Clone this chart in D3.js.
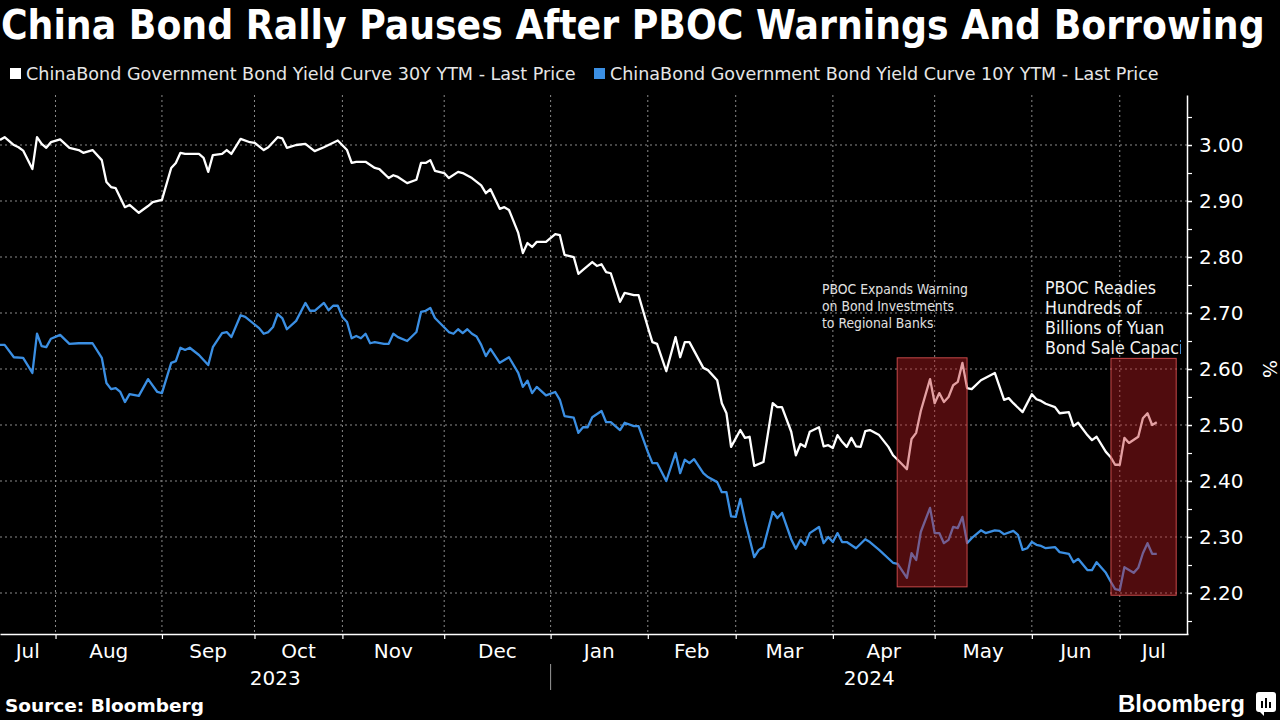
<!DOCTYPE html>
<html><head><meta charset="utf-8">
<script src="https://cdn.jsdelivr.net/npm/d3@7"></script>
<style>html,body{margin:0;padding:0;background:#000;} svg{display:block}</style>
</head><body><svg id="c" width="1280" height="720"></svg>
<script>
// ---------- DATA ----------
const title = "China Bond Rally Pauses After PBOC Warnings And Borrowing";
const seriesNames = [
  "ChinaBond Government Bond Yield Curve 30Y YTM - Last Price",
  "ChinaBond Government Bond Yield Curve 10Y YTM - Last Price"
];
// x = trading-day index from mid-July 2023
const monthLabels = ["Jul","Aug","Sep","Oct","Nov","Dec","Jan","Feb","Mar","Apr","May","Jun","Jul"];
const monthStarts = [12,35,55,74,96,119,140,159,180,202,223,242];
const dayDomain = [0, 256.75];
const yearLabels = ["2023","2024"];
const yearBreak = 119;
const yDomain = [2.1268, 3.0893];
const yTicks = [2.2,2.3,2.4,2.5,2.6,2.7,2.8,2.9,3.0];
const yMinorTicks = [2.15,2.25,2.35,2.45,2.55,2.65,2.75,2.85,2.95,3.05];

// 30Y yield: [trading day, %]
const yield30 = [[0,3.009],[1,3.014],[3,3.000],[4,2.996],[5,2.990],[7,2.957],[8,3.014],[9,3.002],[10,2.995],[11,3.005],[13,3.010],[15,2.995],[17,2.991],[18,2.986],[20,2.991],[22,2.973],[23,2.934],[24,2.925],[25,2.923],[27,2.889],[28,2.893],[30,2.879],[32,2.891],[33,2.898],[35,2.902],[37,2.959],[38,2.968],[39,2.986],[40,2.984],[43,2.984],[44,2.977],[45,2.952],[46,2.982],[48,2.984],[49,2.991],[50,2.984],[52,3.011],[54,3.005],[55,3.004],[57,2.991],[58,2.996],[60,3.014],[61,3.012],[62,2.995],[64,3.000],[66,3.002],[68,2.989],[70,2.996],[73,3.008],[75,2.991],[76,2.968],[77,2.970],[79,2.970],[81,2.959],[82,2.957],[84,2.941],[85,2.946],[86,2.943],[88,2.932],[90,2.938],[91,2.968],[92,2.968],[93,2.973],[94,2.954],[96,2.950],[97,2.941],[99,2.952],[100,2.950],[102,2.941],[104,2.928],[105,2.914],[106,2.921],[108,2.886],[109,2.889],[110,2.884],[112,2.843],[113,2.807],[114,2.825],[115,2.818],[116,2.827],[118,2.827],[120,2.841],[121,2.839],[122,2.804],[124,2.800],[125,2.770],[126,2.777],[128,2.791],[129,2.784],[130,2.787],[131,2.773],[132,2.771],[134,2.720],[135,2.736],[137,2.732],[138,2.732],[140,2.675],[141,2.648],[142,2.645],[144,2.596],[146,2.657],[147,2.621],[148,2.648],[149,2.648],[152,2.602],[153,2.598],[155,2.580],[156,2.539],[157,2.521],[158,2.461],[160,2.491],[161,2.477],[162,2.479],[163,2.427],[165,2.434],[167,2.539],[168,2.532],[169,2.532],[171,2.488],[172,2.446],[173,2.466],[174,2.461],[175,2.488],[177,2.496],[178,2.462],[179,2.464],[180,2.459],[181,2.482],[182,2.470],[183,2.461],[184,2.477],[185,2.462],[186,2.461],[187,2.489],[188,2.491],[190,2.482],[192,2.461],[193,2.446],[194,2.438],[196,2.421],[197,2.475],[198,2.486],[199,2.525],[201,2.582],[202,2.539],[203,2.557],[204,2.541],[205,2.550],[206,2.571],[207,2.577],[208,2.611],[209,2.566],[210,2.564],[212,2.580],[215,2.593],[217,2.545],[218,2.548],[219,2.539],[221,2.523],[223,2.555],[224,2.546],[225,2.543],[226,2.538],[228,2.532],[229,2.521],[231,2.523],[232,2.498],[233,2.504],[235,2.482],[236,2.473],[237,2.479],[239,2.452],[240,2.443],[241,2.429],[242,2.429],[243,2.477],[244,2.468],[246,2.479],[247,2.512],[248,2.521],[249,2.500],[250,2.505]];

// 10Y yield: [trading day, %]
const yield10 = [[0,2.643],[1,2.643],[3,2.621],[5,2.620],[7,2.593],[8,2.663],[9,2.641],[10,2.639],[11,2.654],[13,2.661],[15,2.645],[17,2.646],[20,2.646],[22,2.620],[23,2.575],[24,2.564],[25,2.566],[26,2.559],[27,2.541],[28,2.555],[30,2.552],[32,2.582],[34,2.559],[35,2.557],[37,2.611],[38,2.614],[39,2.638],[40,2.634],[41,2.638],[43,2.625],[45,2.607],[46,2.639],[48,2.664],[49,2.666],[50,2.657],[52,2.696],[53,2.693],[56,2.673],[57,2.663],[58,2.666],[59,2.675],[60,2.698],[61,2.691],[62,2.671],[64,2.686],[66,2.718],[67,2.704],[68,2.704],[70,2.718],[71,2.705],[72,2.713],[73,2.713],[74,2.693],[75,2.684],[76,2.655],[77,2.659],[78,2.655],[79,2.663],[80,2.646],[81,2.648],[83,2.645],[84,2.645],[85,2.663],[86,2.657],[88,2.650],[90,2.666],[91,2.702],[92,2.704],[93,2.709],[94,2.691],[97,2.666],[98,2.663],[99,2.671],[100,2.664],[101,2.671],[102,2.663],[103,2.658],[104,2.643],[105,2.623],[106,2.636],[108,2.611],[110,2.621],[112,2.593],[113,2.568],[114,2.579],[115,2.557],[116,2.568],[118,2.553],[120,2.559],[121,2.545],[122,2.516],[124,2.513],[125,2.486],[126,2.496],[127,2.496],[128,2.514],[130,2.525],[131,2.505],[132,2.505],[134,2.491],[135,2.504],[137,2.498],[138,2.498],[140,2.452],[141,2.432],[142,2.432],[144,2.400],[146,2.450],[147,2.414],[148,2.438],[149,2.432],[150,2.439],[152,2.414],[153,2.407],[155,2.398],[156,2.380],[157,2.380],[158,2.337],[159,2.336],[160,2.368],[161,2.330],[163,2.264],[164,2.277],[165,2.282],[167,2.345],[168,2.334],[169,2.343],[171,2.296],[172,2.279],[173,2.295],[174,2.286],[175,2.307],[177,2.318],[178,2.289],[179,2.300],[180,2.291],[181,2.307],[182,2.291],[183,2.291],[185,2.280],[187,2.296],[188,2.291],[190,2.277],[193,2.254],[194,2.252],[196,2.227],[197,2.271],[198,2.259],[199,2.309],[201,2.352],[202,2.307],[203,2.307],[204,2.289],[205,2.295],[206,2.318],[207,2.316],[208,2.336],[209,2.289],[210,2.298],[212,2.312],[213,2.307],[215,2.312],[216,2.311],[217,2.305],[219,2.311],[220,2.304],[221,2.277],[222,2.280],[223,2.291],[224,2.286],[225,2.284],[226,2.280],[228,2.282],[229,2.273],[231,2.270],[232,2.255],[233,2.261],[235,2.241],[236,2.241],[237,2.255],[239,2.236],[240,2.221],[241,2.207],[242,2.205],[243,2.246],[245,2.236],[246,2.245],[247,2.271],[248,2.289],[249,2.270],[250,2.270]];

// highlighted event windows: [startDay, endDay, low%, high%]
const eventWindows = [[193.9, 209.0, 2.211, 2.620],[240.1, 254.2, 2.196, 2.619]];
const eventNotes = [
  ["PBOC Expands Warning","on Bond Investments","to Regional Banks"],
  ["PBOC Readies","Hundreds of","Billions of Yuan","Bond Sale Capacity"]
];

// ---------- DRAW ----------
const svg = d3.select("#c");
const FONT = "'DejaVu Sans', Verdana, sans-serif";
const FONTC = "'DejaVu Sans Condensed', 'DejaVu Sans', sans-serif";
const plotL = 0, plotR = 1188, plotT = 95, plotB = 634;

// scale a text's font-size so its natural width equals target (no squeezing)
function fitWidth(sel, target, maxFs) {
  const fs = +sel.attr("font-size");
  const w = sel.node().getComputedTextLength();
  if (w > 0) sel.attr("font-size", Math.min(maxFs || 999, fs * target / w));
  return sel;
}

svg.append("rect").attr("width",1280).attr("height",720).attr("fill","#000");

const x = d3.scaleLinear().domain(dayDomain).range([plotL, plotR]);
const y = d3.scaleLinear().domain(yDomain).range([plotB, plotT]);

svg.append("defs").append("clipPath").attr("id","plotclip")
  .append("rect").attr("x",0).attr("y",80).attr("width",1181).attr("height",560);

// Title
const tt = svg.append("text").attr("x",1).attr("y",39)
  .attr("font-family",FONTC).attr("font-weight","bold").attr("font-size",38)
  .attr("fill","#fff").text(title);
fitWidth(tt, 1264, 41);

// Legend
const legendColors = ["#ffffff","#3b8fe3"];
const legendX = [10, 594];
const legendW = [550, 549];
seriesNames.forEach((n,i)=>{
  svg.append("rect").attr("x",legendX[i]).attr("y",68).attr("width",11).attr("height",11).attr("fill",legendColors[i]);
  const t = svg.append("text").attr("x",legendX[i]+16).attr("y",80)
    .attr("font-family",FONT).attr("font-size",17).attr("fill","#e6e6e6").text(n);
  fitWidth(t, legendW[i], 18);
});

// Grid
const grid = svg.append("g");
grid.selectAll("line.h").data(yTicks).join("line")
  .attr("x1",plotL).attr("x2",plotR-1).attr("y1",d=>y(d)).attr("y2",d=>y(d))
  .attr("stroke","#8a8a8a").attr("stroke-width",1).attr("stroke-dasharray","2,3");
grid.selectAll("line.v").data(monthStarts).join("line")
  .attr("x1",d=>x(d)).attr("x2",d=>x(d)).attr("y1",plotT).attr("y2",plotB)
  .attr("stroke","#8a8a8a").attr("stroke-width",1).attr("stroke-dasharray","2,3");

// Lines
const line = d3.line().x(d=>x(d[0])).y(d=>y(d[1])).curve(d3.curveLinear);
svg.append("path").datum(yield30).attr("d",line).attr("fill","none")
  .attr("stroke","#ffffff").attr("stroke-width",2.3).attr("stroke-linejoin","round");
svg.append("path").datum(yield10).attr("d",line).attr("fill","none")
  .attr("stroke","#3b8fe3").attr("stroke-width",2.3).attr("stroke-linejoin","round");

// Event boxes
svg.selectAll("rect.evt").data(eventWindows).join("rect")
  .attr("x",d=>x(d[0])).attr("width",d=>x(d[1])-x(d[0]))
  .attr("y",d=>y(d[3])).attr("height",d=>y(d[2])-y(d[3]))
  .attr("fill","rgba(190,28,34,0.42)").attr("stroke","rgba(225,85,85,0.85)").attr("stroke-width",1);

// Annotations
const notes = svg.append("g").attr("clip-path","url(#plotclip)");
const noteCfg = [{x:822,y0:294,dy:17,fs:13.5,fill:"#e0e0e0",w0:146},{x:1045,y0:294,dy:20,fs:17,fill:"#f2f2f2",w0:111}];
eventNotes.forEach((ls,i)=>{
  const c = noteCfg[i];
  const probe = notes.append("text").attr("font-family",FONTC).attr("font-size",c.fs).text(ls[0]);
  fitWidth(probe, c.w0, c.fs + 2);
  const fs = +probe.attr("font-size");
  probe.remove();
  ls.forEach((t,j)=>{
    notes.append("text").attr("x",c.x).attr("y",c.y0+j*c.dy)
      .attr("font-family",FONTC).attr("font-size",fs).attr("fill",c.fill).text(t);
  });
});

// Y axis (right)
const yAxis = svg.append("g").attr("transform",`translate(${plotR-1},0)`)
  .call(d3.axisRight(y).tickValues(yTicks).tickSize(5).tickSizeOuter(0).tickPadding(7).tickFormat(d3.format(".2f")));
yAxis.select(".domain").attr("stroke","#fff").attr("stroke-width",1.5);
yAxis.selectAll(".tick line").attr("stroke","#fff").attr("stroke-width",1.5);
yAxis.selectAll(".tick text").attr("fill","#fff").attr("font-family",FONT).attr("font-size",20);
const yMinor = svg.append("g").attr("transform",`translate(${plotR-1},0)`)
  .call(d3.axisRight(y).tickValues(yMinorTicks).tickSize(5).tickFormat(""));
yMinor.select(".domain").remove();
yMinor.selectAll(".tick line").attr("stroke","#fff").attr("stroke-width",1.2);

svg.append("text").attr("transform","translate(1263,369) rotate(90)")
  .attr("text-anchor","middle").attr("font-family",FONT).attr("font-size",19).attr("fill","#fff").text("%");

// X axis
const xAxis = svg.append("g").attr("transform",`translate(0,${plotB})`)
  .call(d3.axisBottom(x).tickValues(monthStarts).tickSize(5).tickSizeOuter(0).tickFormat(""));
xAxis.select(".domain").attr("stroke","#fff").attr("stroke-width",1.5);
xAxis.selectAll(".tick line").attr("stroke","#fff").attr("stroke-width",1.2);

const bounds = [dayDomain[0], ...monthStarts, dayDomain[1]];
svg.selectAll("text.mon").data(monthLabels).join("text")
  .attr("x",(d,i)=>(x(bounds[i])+x(bounds[i+1]))/2).attr("y",658)
  .attr("text-anchor","middle").attr("font-family",FONT).attr("font-size",20).attr("fill","#fff")
  .text(d=>d);
const yb = [dayDomain[0], yearBreak, dayDomain[1]];
svg.selectAll("text.yr").data(yearLabels).join("text")
  .attr("x",(d,i)=>(x(yb[i])+x(yb[i+1]))/2).attr("y",685)
  .attr("text-anchor","middle").attr("font-family",FONT).attr("font-size",20).attr("fill","#fff")
  .text(d=>d);
svg.append("line").attr("x1",x(yearBreak)).attr("x2",x(yearBreak)).attr("y1",664).attr("y2",690)
  .attr("stroke","#9a9a9a").attr("stroke-width",1);

// Footer
const src = svg.append("text").attr("x",5).attr("y",712).attr("font-family",FONT).attr("font-weight","bold")
  .attr("font-size",17).attr("fill","#fff").text("Source: Bloomberg");
fitWidth(src, 199, 18.6);
const bb = svg.append("text").attr("x",1118).attr("y",712).attr("font-family","'Liberation Sans', Arial, sans-serif").attr("font-weight","bold")
  .attr("font-size",24).attr("fill","#fff").text("Bloomberg");
fitWidth(bb, 127, 25);
const icon = svg.append("g").attr("transform","translate(1256,692)");
icon.append("rect").attr("width",20).attr("height",20).attr("rx",3).attr("fill","#fff");
icon.append("path").attr("d","M4,20 L8,24 L8,20 Z").attr("fill","#fff");
[[5,9,2,7],[9,6,2,10],[13,10,2,6]].forEach(b=>icon.append("rect").attr("x",b[0]).attr("y",b[1]).attr("width",b[2]).attr("height",b[3]).attr("fill","#000"));
</script>
</body></html>
